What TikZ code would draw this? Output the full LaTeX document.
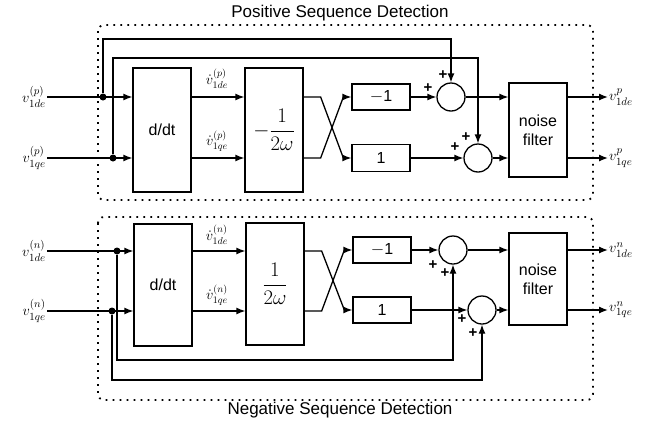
\documentclass[tikz,border=0pt]{standalone}
\usepackage{amsmath}
\usepackage{fontspec}
\setmainfont{Liberation Sans}
\usetikzlibrary{positioning,calc,arrows.meta}

\begin{document}
\begin{tikzpicture}[x=1pt, y=-1pt,
    blk/.style={draw, line width=1.3pt, font=\fontsize{16}{19}\selectfont, align=center, inner sep=0pt, minimum width=58pt},
    sum/.style={draw, circle, line width=1.3pt, minimum size=28pt, inner sep=0pt},
    arrow/.style={-{Latex[length=9pt,width=7pt]}, line width=1.3pt},
    junc/.style={circle, fill, inner sep=0pt, minimum size=7pt},
    pm/.style={font=\bfseries\fontsize{15}{15}\selectfont, inner sep=0pt},
    panel/.style={line width=1.8pt, dash pattern=on 1.8pt off 5.2pt, rounded corners=6pt},
    sig/.style={font=\fontsize{15}{17}\selectfont, inner sep=1pt},
    dsig/.style={font=\fontsize{14}{16}\selectfont, inner sep=0pt},
    frac/.style={font=\fontsize{20}{24}\selectfont},
    ttl/.style={font=\fontsize{17}{19}\selectfont},
]
\useasboundingbox (0,0) rectangle (654,421);

% Positive sequence panel
\draw[panel] (98,25) rectangle (593,200);
\node[ttl] (tp) at (340,13) {Positive Sequence Detection};

\node[blk, minimum height=124pt] (ddtp) at (162,130) {d/dt};
\node[blk, minimum height=124pt, frac] (gp) at (274,130) {$-\dfrac{1}{2\omega}$};
\node[blk, minimum height=26pt] (mp) at (381,97) {$-$1};
\node[blk, minimum height=27pt] (op) at (381,158) {1};
\node[sum] (sp1) at (451,97) {};
\node[sum] (sp2) at (478,158) {};
\node[blk, minimum height=94pt] (nfp) at (538,130) {noise\\filter};

\node[sig, anchor=east] (vdp) at (47,97) {$v^{(p)}_{1de}$};
\node[sig, anchor=east] (vqp) at (47,158) {$v^{(p)}_{1qe}$};
\node[sig, anchor=west] (odp) at (608,97) {$v^{p}_{1de}$};
\node[sig, anchor=west] (oqp) at (608,158) {$v^{p}_{1qe}$};
\node[junc] (jdp) at (103,97) {};
\node[junc] (jqp) at (113,158) {};
\node[dsig] (ddp) at (217,79) {${\dot v}^{(p)}_{1de}$};
\node[dsig] (dqp) at (217,141) {${\dot v}^{(p)}_{1qe}$};

\draw[arrow] (vdp) -- (ddtp.west |- vdp);
\draw[arrow] (vqp) -- (ddtp.west |- vqp);
\draw[arrow] (ddtp.east |- vdp) -- (gp.west |- vdp);
\draw[arrow] (ddtp.east |- vqp) -- (gp.west |- vqp);
\draw[arrow] (gp.east |- vdp) -- ++(17,0) -- ($(op.west)+(-8,0)$) -- (op.west);
\draw[arrow] (gp.east |- vqp) -- ++(17,0) -- ($(mp.west)+(-8,0)$) -- (mp.west);
\draw[arrow] (mp) -- (sp1);
\draw[arrow] (op) -- (sp2);
\draw[arrow] (sp1) -- (nfp.west |- sp1);
\draw[arrow] (sp2) -- (nfp.west |- sp2);
\draw[arrow] (jdp) -- (jdp |- 0,39) -| (sp1.north);
\draw[arrow] (jqp) -- (jqp |- 0,58) -| (sp2.north);
\draw[arrow] (nfp.east |- odp) -- (odp);
\draw[arrow] (nfp.east |- oqp) -- (oqp);
\node[pm] at (428,88) {+};
\node[pm] at (443,75) {+};
\node[pm] at (455,147) {+};
\node[pm] at (466,137) {+};

% Negative sequence panel
\draw[panel] (98,217) rectangle (593,400);
\node[ttl] (tn) at (340,410) {Negative Sequence Detection};

\node[blk, minimum height=122pt] (ddtn) at (163,285) {d/dt};
\node[blk, minimum height=122pt, frac] (gn) at (275,284) {$\dfrac{1}{2\omega}$};
\node[blk, minimum height=26pt] (mn) at (382,250) {$-$1};
\node[blk, minimum height=26pt] (on) at (382,310) {1};
\node[sum] (sn1) at (453,250) {};
\node[sum] (sn2) at (482,310) {};
\node[blk, minimum height=92pt] (nfn) at (538,279) {noise\\filter};

\node[sig, anchor=east] (vdn) at (47,251) {$v^{(n)}_{1de}$};
\node[sig, anchor=east] (vqn) at (47,311) {$v^{(n)}_{1qe}$};
\node[sig, anchor=west] (odn) at (608,250) {$v^{n}_{1de}$};
\node[sig, anchor=west] (oqn) at (608,310) {$v^{n}_{1qe}$};
\node[junc] (jdn) at (117,251) {};
\node[junc] (jqn) at (112,311) {};
\node[dsig] (ddn) at (217,235) {${\dot v}^{(n)}_{1de}$};
\node[dsig] (dqn) at (217,295) {${\dot v}^{(n)}_{1qe}$};

\draw[arrow] (vdn) -- (ddtn.west |- vdn);
\draw[arrow] (vqn) -- (ddtn.west |- vqn);
\draw[arrow] (ddtn.east |- vdn) -- (gn.west |- vdn);
\draw[arrow] (ddtn.east |- vqn) -- (gn.west |- vqn);
\draw[arrow] (gn.east |- vdn) -- ++(17,0) -- ($(on.west)+(-8,0)$) -- (on.west);
\draw[arrow] (gn.east |- vqn) -- ++(17,0) -- ($(mn.west)+(-8,0)$) -- (mn.west);
\draw[arrow] (mn) -- (sn1);
\draw[arrow] (on) -- (sn2);
\draw[arrow] (sn1) -- (nfn.west |- sn1);
\draw[arrow] (sn2) -- (nfn.west |- sn2);
\draw[arrow] (jdn) -- (jdn |- 0,360) -| (sn1.south);
\draw[arrow] (jqn) -- (jqn |- 0,380) -| (sn2.south);
\draw[arrow] (nfn.east |- odn) -- (odn);
\draw[arrow] (nfn.east |- oqn) -- (oqn);
\node[pm] at (433,265) {+};
\node[pm] at (445,273) {+};
\node[pm] at (462,319) {+};
\node[pm] at (473,333) {+};
\end{tikzpicture}
\end{document}
